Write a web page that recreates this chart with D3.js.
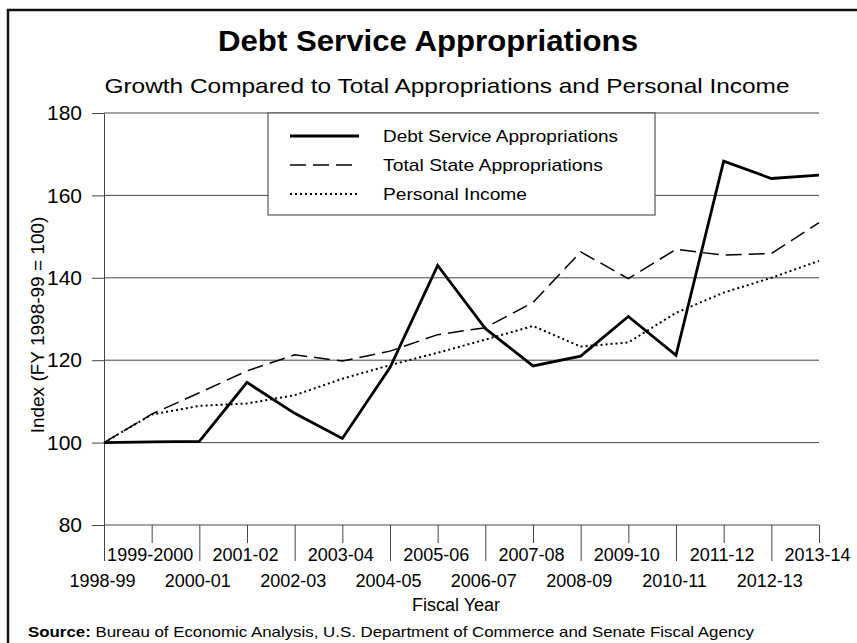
<!DOCTYPE html>
<html lang="en">
<head>
    <meta charset="UTF-8">
    <title>Debt Service Appropriations</title>
    <script src="https://d3js.org/d3.v7.min.js"></script>
    <style>
        body { margin: 0; background: #fff; }
        svg { display: block; font-family: 'Liberation Sans', Arial, sans-serif; }
    </style>
</head>
<body>
    <div id="chart"></div>
    <script>
        // Data (index, FY 1998-99 = 100)
        const years = ["1998-99", "1999-2000", "2000-01", "2001-02", "2002-03", "2003-04", "2004-05", "2005-06",
            "2006-07", "2007-08", "2008-09", "2009-10", "2010-11", "2011-12", "2012-13", "2013-14"];
        const debtService = [100, 100.2, 100.3, 114.6, 107.1, 101.0, 118.2, 143.0, 127.7, 118.6, 121.0, 130.6, 121.2, 168.3, 164.1, 164.9];
        const totalState = [100, 106.9, 112.1, 117.4, 121.3, 119.8, 122.2, 126.2, 127.9, 134.0, 146.3, 139.8, 146.9, 145.5, 145.9, 153.4];
        const personalIncome = [100, 106.8, 108.9, 109.5, 111.5, 115.5, 118.8, 121.8, 125.0, 128.3, 123.3, 124.3, 131.5, 136.4, 140.0, 144.1];
        const seriesNames = ["Debt Service Appropriations", "Total State Appropriations", "Personal Income"];
        const yTicks = [80, 100, 120, 140, 160, 180];

        const width = 857;
        const height = 643;
        const margin = { top: 113, right: 38, bottom: 118, left: 104 };

        const svg = d3.select("#chart")
            .append("svg")
            .attr("width", width)
            .attr("height", height);

        // outer frame (runs off the right and bottom edges)
        svg.append("rect")
            .attr("x", 8).attr("y", 10)
            .attr("width", 900).attr("height", 700)
            .attr("fill", "none")
            .attr("stroke", "#111")
            .attr("stroke-width", 2.5);

        const x = d3.scalePoint()
            .domain(years)
            .range([margin.left, width - margin.right]);

        const y = d3.scaleLinear()
            .domain([80, 180])
            .range([height - margin.bottom, margin.top]);

        // Titles
        svg.append("text")
            .attr("x", 428).attr("y", 51)
            .attr("text-anchor", "middle")
            .attr("font-size", 29)
            .attr("font-weight", "bold")
            .attr("textLength", 420)
            .attr("lengthAdjust", "spacingAndGlyphs")
            .text("Debt Service Appropriations");

        svg.append("text")
            .attr("x", 447).attr("y", 93)
            .attr("text-anchor", "middle")
            .attr("font-size", 21)
            .attr("textLength", 685)
            .attr("lengthAdjust", "spacingAndGlyphs")
            .text("Growth Compared to Total Appropriations and Personal Income");

        // Gridlines
        svg.append("g")
            .selectAll("line")
            .data(yTicks)
            .join("line")
            .attr("x1", margin.left)
            .attr("x2", width - margin.right)
            .attr("y1", d => y(d))
            .attr("y2", d => y(d))
            .attr("stroke", "#444")
            .attr("stroke-width", 1);

        // Y axis
        const yAxis = svg.append("g")
            .attr("transform", `translate(${margin.left},0)`)
            .call(d3.axisLeft(y).tickValues(yTicks).tickSize(12).tickSizeOuter(0).tickPadding(10));
        yAxis.select(".domain").attr("stroke", "#444");
        yAxis.selectAll(".tick line").attr("stroke", "#444");
        yAxis.selectAll(".tick text")
            .attr("font-size", 21)
            .attr("font-family", "'Liberation Sans', Arial, sans-serif")
            .attr("fill", "#000");

        svg.append("text")
            .attr("transform", `translate(44,${(y(80) + y(180)) / 2 + 6}) rotate(-90)`)
            .attr("text-anchor", "middle")
            .attr("font-size", 19)
            .text("Index (FY 1998-99 = 100)");

        // X axis: alternate long/short ticks, labels on two rows
        const xAxis = svg.append("g")
            .attr("transform", `translate(0,${y(80)})`)
            .call(d3.axisBottom(x).tickSizeOuter(0));
        xAxis.select(".domain").remove();
        xAxis.selectAll(".tick line")
            .attr("stroke", "#444")
            .attr("y2", (d, i) => i % 2 === 0 ? 36 : 18);
        xAxis.selectAll(".tick text")
            .attr("font-size", 18)
            .attr("font-family", "'Liberation Sans', Arial, sans-serif")
            .attr("fill", "#000")
            .attr("dx", -2)
            .attr("dy", 0)
            .attr("y", (d, i) => i % 2 === 1 ? 36 : 62);

        svg.append("text")
            .attr("x", 456).attr("y", 611)
            .attr("text-anchor", "middle")
            .attr("font-size", 18)
            .text("Fiscal Year");

        // Lines
        const line = d3.line()
            .x((d, i) => x(years[i]))
            .y(d => y(d));

        const styles = [
            { data: debtService, width: 2.8, dash: null },
            { data: totalState, width: 1.5, dash: "16,7" },
            { data: personalIncome, width: 2, dash: "2,3" }
        ];

        styles.forEach(s => {
            svg.append("path")
                .datum(s.data)
                .attr("fill", "none")
                .attr("stroke", "#000")
                .attr("stroke-width", s.width)
                .attr("stroke-dasharray", s.dash)
                .attr("stroke-linejoin", "miter")
                .attr("d", line);
        });

        // Legend
        const legend = svg.append("g");
        legend.append("rect")
            .attr("x", 268).attr("y", y(180))
            .attr("width", 387).attr("height", 102)
            .attr("fill", "#fff")
            .attr("stroke", "#555")
            .attr("stroke-width", 1.2);

        const legendLengths = [235, 220, 144];
        seriesNames.forEach((name, i) => {
            const ly = 136 + i * 29;
            legend.append("line")
                .attr("x1", 290).attr("x2", 359)
                .attr("y1", ly).attr("y2", ly)
                .attr("stroke", "#000")
                .attr("stroke-width", styles[i].width)
                .attr("stroke-dasharray", styles[i].dash);
            legend.append("text")
                .attr("x", 383).attr("y", ly + 6)
                .attr("font-size", 17)
                .attr("textLength", legendLengths[i])
                .attr("lengthAdjust", "spacingAndGlyphs")
                .text(name);
        });

        // Source note
        const src = svg.append("text")
            .attr("x", 28).attr("y", 637)
            .attr("font-size", 15)
            .attr("textLength", 726)
            .attr("lengthAdjust", "spacingAndGlyphs");
        src.append("tspan").attr("font-weight", "bold").text("Source:");
        src.append("tspan").text(" Bureau of Economic Analysis, U.S. Department of Commerce and Senate Fiscal Agency");
    </script>
</body>
</html>
